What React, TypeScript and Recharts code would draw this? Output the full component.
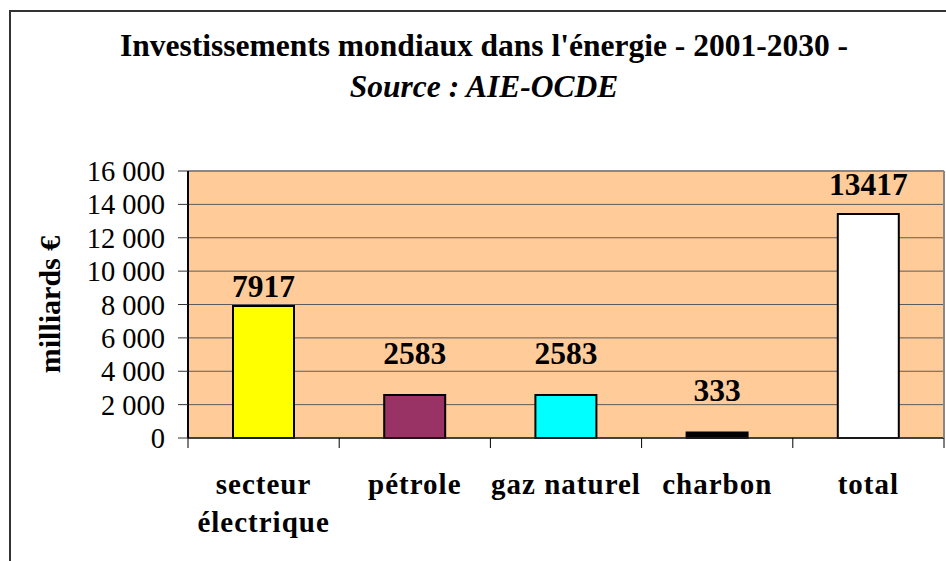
import {
  BarChart,
  Bar,
  XAxis,
  YAxis,
  CartesianGrid,
  Cell,
  LabelList,
  ReferenceLine,
} from "recharts";

const categories = ["secteur\nélectrique", "pétrole", "gaz naturel", "charbon", "total"];
const investments = [7917, 2583, 2583, 333, 13417];
const barColors = ["#FFFF00", "#993366", "#00FFFF", "#000000", "#FFFFFF"];
const yTicks = [0, 2000, 4000, 6000, 8000, 10000, 12000, 14000, 16000];

const data = categories.map((name, i) => ({ name, value: investments[i] }));

const SERIF = '"Liberation Serif", "Times New Roman", serif';
const W = 946;
const H = 561;
const PLOT_LEFT = 188;
const PLOT_RIGHT = 944;
const PLOT_TOP = 171;
const PLOT_BOTTOM = 438;
const Y_AXIS_W = 100;
const X_AXIS_H = 100;
const BAND = (PLOT_RIGHT - PLOT_LEFT) / categories.length;

// Excel placed the value labels at slightly different heights
const labelLift = [9, 31, 31, 31, 19];

function formatTick(v: number) {
  return v.toLocaleString("en-US").replace(/,/g, " ");
}

function CategoryTick(props: any) {
  const { x, payload, index } = props;
  const lines = String(payload.value).split("\n");
  const left = x - BAND / 2;
  const right = x + BAND / 2;
  return (
    <g>
      <line x1={left} x2={left} y1={PLOT_BOTTOM} y2={PLOT_BOTTOM + 10} stroke="#000" />
      {index === categories.length - 1 && (
        <line x1={right} x2={right} y1={PLOT_BOTTOM} y2={PLOT_BOTTOM + 10} stroke="#000" />
      )}
      <text
        x={x}
        y={PLOT_BOTTOM + 56}
        textAnchor="middle"
        fontFamily={SERIF}
        fontWeight="bold"
        fontSize={29}
        letterSpacing={1}
        fill="#000"
      >
        {lines.map((l, i) => (
          <tspan key={i} x={x} dy={i === 0 ? 0 : 38}>
            {l}
          </tspan>
        ))}
      </text>
    </g>
  );
}

function ValueLabel(props: any) {
  const { x, y, width, value, index } = props;
  return (
    <text
      x={x + width / 2}
      y={y - labelLift[index]}
      textAnchor="middle"
      fontFamily={SERIF}
      fontWeight="bold"
      fontSize={31.5}
      fill="#000"
    >
      {value}
    </text>
  );
}

export default function App() {
  return (
    <div
      style={{
        position: "absolute",
        left: 0,
        top: 0,
        width: W,
        height: H,
        overflow: "hidden",
        background: "#fff",
      }}
    >
      <div
        style={{
          position: "absolute",
          left: 9,
          top: 10,
          width: W + 40,
          height: H + 40,
          borderTop: "2px solid #333",
          borderLeft: "2px solid #333",
        }}
      />
      <div
        style={{
          position: "absolute",
          left: 0,
          top: 25,
          width: 968,
          textAlign: "center",
          fontFamily: SERIF,
          fontWeight: "bold",
          fontSize: 31.5,
          lineHeight: "41px",
          color: "#000",
        }}
      >
        <div>Investissements mondiaux dans l'énergie - 2001-2030 -</div>
        <div style={{ fontStyle: "italic" }}>Source : AIE-OCDE</div>
      </div>
      <div style={{ position: "absolute", left: 0, top: 0 }}>
        <BarChart
          width={W}
          height={H}
          data={data}
          margin={{
            top: PLOT_TOP,
            right: W - PLOT_RIGHT - 2,
            bottom: H - PLOT_BOTTOM - X_AXIS_H,
            left: PLOT_LEFT - Y_AXIS_W,
          }}
        >
          <CartesianGrid
            vertical={false}
            fill="#FFCC99"
            stroke="#5c5c5c"
            strokeWidth={1}
          />
          <XAxis
            dataKey="name"
            height={X_AXIS_H}
            axisLine={{ stroke: "#222", strokeWidth: 1.5 }}
            tickLine={false}
            tick={<CategoryTick />}
            interval={0}
          />
          <YAxis
            domain={[0, 16000]}
            ticks={yTicks}
            interval={0}
            width={Y_AXIS_W}
            tickFormatter={formatTick}
            axisLine={{ stroke: "#000", strokeWidth: 2 }}
            tickLine={{ stroke: "#333" }}
            tickSize={10}
            tickMargin={13}
            tick={{ fontFamily: SERIF, fontSize: 28.5, fill: "#000" }}
            label={{
              content: () => (
                <text
                  x={53}
                  y={(PLOT_TOP + PLOT_BOTTOM) / 2}
                  transform={`rotate(-90 53 ${(PLOT_TOP + PLOT_BOTTOM) / 2})`}
                  textAnchor="middle"
                  dominantBaseline="middle"
                  fontFamily={SERIF}
                  fontWeight="bold"
                  fontSize={30}
                  fill="#000"
                >
                  milliards €
                </text>
              ),
            }}
          />
          <YAxis
            yAxisId="frame"
            orientation="right"
            width={2}
            tick={false}
            tickLine={false}
            axisLine={{ stroke: "#888", strokeWidth: 2 }}
          />
          <ReferenceLine y={16000} stroke="#888" strokeWidth={2} />
          <Bar
            dataKey="value"
            barSize={61}
            stroke="#000"
            strokeWidth={2}
            isAnimationActive={false}
          >
            {data.map((d, i) => (
              <Cell key={d.name} fill={barColors[i]} />
            ))}
            <LabelList dataKey="value" content={<ValueLabel />} />
          </Bar>
        </BarChart>
      </div>
    </div>
  );
}
